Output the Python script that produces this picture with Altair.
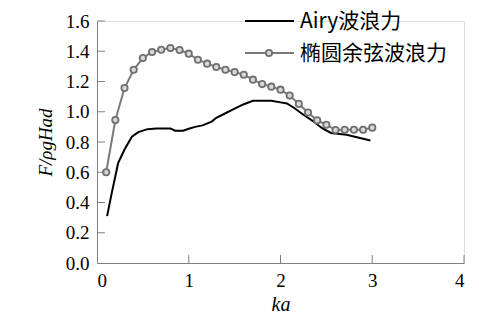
import altair as alt
import pandas as pd

# Airy wave force (black line)
airy_ka = [0.11, 0.16, 0.23, 0.30, 0.38, 0.45, 0.55, 0.65, 0.80, 0.85, 0.94, 1.00, 1.07, 1.15,
           1.25, 1.30, 1.40, 1.50, 1.60, 1.70, 1.80, 1.90, 2.00, 2.07, 2.15, 2.25, 2.35, 2.45,
           2.55, 2.72, 2.98]
airy_f = [0.31, 0.46, 0.66, 0.75, 0.835, 0.865, 0.885, 0.89, 0.89, 0.875, 0.875, 0.888, 0.90, 0.91,
          0.935, 0.96, 0.99, 1.02, 1.05, 1.072, 1.072, 1.072, 1.062, 1.055, 1.025, 0.98, 0.94, 0.893,
          0.86, 0.848, 0.81]

# Cnoidal wave force (grey line with circles)
cn_ka = [0.1, 0.2, 0.3, 0.4, 0.5, 0.6, 0.7, 0.8, 0.9, 1.0, 1.1, 1.2, 1.3, 1.4, 1.5, 1.6, 1.7,
         1.8, 1.9, 2.0, 2.1, 2.2, 2.3, 2.4, 2.5, 2.6, 2.7, 2.8, 2.9, 3.0]
cn_f = [0.60, 0.945, 1.157, 1.278, 1.355, 1.395, 1.41, 1.421, 1.408, 1.384, 1.344, 1.318, 1.296,
        1.278, 1.262, 1.245, 1.212, 1.183, 1.166, 1.146, 1.107, 1.052, 0.995, 0.943, 0.914, 0.879,
        0.881, 0.881, 0.881, 0.895]

x_labels = [0, 1, 2, 3, 4]
y_labels = [0.0, 0.2, 0.4, 0.6, 0.8, 1.0, 1.2, 1.4, 1.6]
x_ticks = [1, 2, 3, 4]
y_ticks = [0.2, 0.4, 0.6, 0.8, 1.0, 1.2, 1.4, 1.6]
legend_labels = ["Airy波浪力", "椭圆余弦波浪力"]

W, H = 367, 242
AXIS_COLOR = "#808080"
SERIF = "Liberation Serif, Times New Roman, serif"
CJK = "Noto Sans CJK SC"

df_airy = pd.DataFrame({"ka": airy_ka, "F": airy_f})
df_cn = pd.DataFrame({"ka": cn_ka, "F": cn_f})
df_xt = pd.DataFrame({"ka": x_ticks})
df_yt = pd.DataFrame({"F": y_ticks})

xscale = alt.Scale(domain=[0, 4], nice=False)
yscale = alt.Scale(domain=[0, 1.6], nice=False)

xaxis = alt.Axis(values=x_labels, format="d", labelOverlap=False, ticks=False, grid=False,
                 domainColor=AXIS_COLOR, labelFont=SERIF, labelFontSize=19, labelColor="black",
                 labelPadding=8, title="ka", titleFont=SERIF, titleFontStyle="italic",
                 titleFontWeight="normal", titleFontSize=20, titleColor="black", titlePadding=4)
yaxis = alt.Axis(values=y_labels, format=".1f", labelOverlap=False, ticks=False, grid=False,
                 domainColor=AXIS_COLOR, labelFont=SERIF, labelFontSize=19, labelColor="black",
                 labelPadding=8, title="F/ρgHad", titleFont=SERIF, titleFontStyle="italic",
                 titleFontWeight="normal", titleFontSize=19, titleColor="black", titlePadding=10)

X = alt.X("ka:Q", scale=xscale, axis=xaxis)
Y = alt.Y("F:Q", scale=yscale, axis=yaxis)

airy = alt.Chart(df_airy).mark_line(color="black", strokeWidth=2).encode(x=X, y=Y)

cn_line = alt.Chart(df_cn).mark_line(color="#7a7a7a", strokeWidth=2).encode(x=X, y=Y)
cn_pts = alt.Chart(df_cn).mark_point(shape="circle", size=40, filled=True, fill="#d8d8d8",
                                     stroke="#707070", strokeWidth=1.8, opacity=1).encode(x=X, y=Y)

xt = alt.Chart(df_xt).mark_rule(color=AXIS_COLOR, strokeWidth=1).encode(
    x=X, y=alt.value(H), y2=alt.value(H - 8)
)
yt = alt.Chart(df_yt).mark_rule(color=AXIS_COLOR, strokeWidth=1).encode(
    y=Y, x=alt.value(0), x2=alt.value(8)
)

# legend
df_leg = pd.DataFrame({"label": legend_labels, "row": [0, 1]})
leg_y = [0, 32]
leg_airy = alt.Chart(df_leg.iloc[[0]]).mark_rule(color="black", strokeWidth=2).encode(
    x=alt.value(148), x2=alt.value(197), y=alt.value(leg_y[0])
)
leg_cn = alt.Chart(df_leg.iloc[[1]]).mark_rule(color="#7a7a7a", strokeWidth=2).encode(
    x=alt.value(148), x2=alt.value(197), y=alt.value(leg_y[1])
)
leg_pt = alt.Chart(df_leg.iloc[[1]]).mark_point(shape="circle", size=40, filled=True, fill="#d8d8d8",
                                                stroke="#707070", strokeWidth=1.8, opacity=1).encode(
    x=alt.value(172), y=alt.value(leg_y[1])
)
leg_t1 = alt.Chart(df_leg.iloc[[0]]).mark_text(align="left", baseline="middle", font=CJK,
                                               fontSize=21, color="black").encode(
    x=alt.value(203), y=alt.value(leg_y[0] + 1), text="label:N"
)
leg_t2 = alt.Chart(df_leg.iloc[[1]]).mark_text(align="left", baseline="middle", font=CJK,
                                               fontSize=21, color="black").encode(
    x=alt.value(203), y=alt.value(leg_y[1] + 1), text="label:N"
)

chart = alt.layer(airy, cn_line, cn_pts, xt, yt, leg_airy, leg_cn, leg_pt, leg_t1, leg_t2).properties(
    width=W, height=H,
    autosize=alt.AutoSizeParams(type="none"),
    padding={"left": 89, "top": 13, "right": 7, "bottom": 50},
).configure_view(stroke=None).configure_axis(
    labelFont=SERIF, titleFont=SERIF, labelOverlap=False
).configure(background="white")

chart.save("out.html", embed_options={"renderer": "svg", "actions": False})
